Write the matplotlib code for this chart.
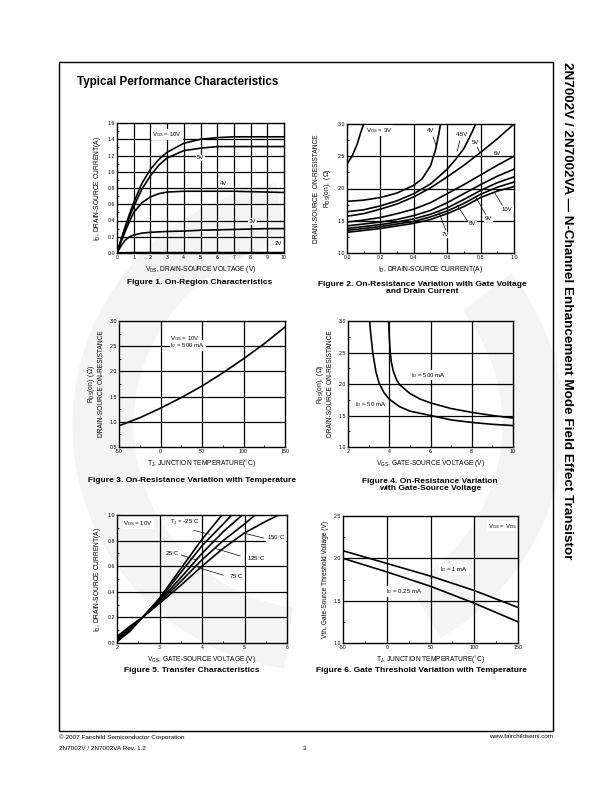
#!/usr/bin/env python3
import matplotlib
matplotlib.use("Agg")
import matplotlib.pyplot as plt
from matplotlib.patches import Rectangle, Wedge
from matplotlib.ticker import MultipleLocator, FuncFormatter

plt.rcParams["font.family"] = ["Liberation Sans", "DejaVu Sans"]
plt.rcParams["mathtext.fontset"] = "custom"
plt.rcParams["mathtext.rm"] = "Liberation Sans"
plt.rcParams["mathtext.it"] = "Liberation Sans"

W, H = 612, 792

# ---- Figure 1: On-Region Characteristics ----
f1_vds = [0, 0.25, 0.5, 0.75, 1, 1.5, 2, 2.5, 3, 4, 5, 6, 7, 8, 9, 10]
f1_id_10v = [0, 0.17, 0.33, 0.48, 0.62, 0.86, 1.03, 1.15, 1.24, 1.35, 1.40, 1.42, 1.43, 1.43, 1.43, 1.43]
f1_id_5v = [0, 0.16, 0.31, 0.45, 0.57, 0.79, 0.95, 1.08, 1.17, 1.26, 1.29, 1.31, 1.31, 1.31, 1.31, 1.31]
f1_id_4v = [0, 0.14, 0.27, 0.39, 0.50, 0.62, 0.69, 0.73, 0.75, 0.76, 0.76, 0.76, 0.76, 0.755, 0.75, 0.745]
f1_id_3v = [0, 0.09, 0.16, 0.20, 0.22, 0.245, 0.255, 0.26, 0.265, 0.27, 0.28, 0.285, 0.29, 0.295, 0.30, 0.30]
f1_id_2v = [0, 0.003, 0.004, 0.005, 0.005, 0.005, 0.005, 0.005, 0.005, 0.005, 0.005, 0.005, 0.005, 0.005, 0.005, 0.005]

# ---- Figure 2: On-Resistance vs Gate Voltage and Drain Current ----
f2_3v_id = [0.0, 0.03, 0.06, 0.08, 0.1]
f2_3v_r = [2.38, 2.5, 2.68, 2.85, 3.0]
f2_4v_id = [0.0, 0.1, 0.2, 0.3, 0.4, 0.45, 0.5, 0.53, 0.55, 0.56]
f2_4v_r = [1.80, 1.82, 1.86, 1.93, 2.05, 2.15, 2.35, 2.6, 2.85, 3.0]
f2_45v_id = [0.0, 0.1, 0.2, 0.3, 0.4, 0.5, 0.6, 0.65, 0.7, 0.75, 0.77]
f2_45v_r = [1.64, 1.67, 1.73, 1.81, 1.92, 2.07, 2.3, 2.45, 2.62, 2.88, 3.0]
f2_id = [0.0, 0.1, 0.2, 0.3, 0.4, 0.5, 0.6, 0.7, 0.8, 0.9, 1.0]
f2_5v_r = [1.57, 1.61, 1.68, 1.76, 1.87, 2.01, 2.18, 2.36, 2.56, 2.77, 3.0]
f2_6v_r = [1.48, 1.51, 1.55, 1.61, 1.68, 1.78, 1.92, 2.06, 2.21, 2.36, 2.5]
f2_7v_r = [1.42, 1.45, 1.48, 1.52, 1.58, 1.66, 1.78, 1.92, 2.06, 2.19, 2.3]
f2_8v_r = [1.38, 1.41, 1.44, 1.48, 1.53, 1.60, 1.70, 1.83, 1.97, 2.09, 2.18]
f2_9v_r = [1.35, 1.38, 1.41, 1.45, 1.49, 1.56, 1.65, 1.77, 1.91, 2.02, 2.1]
f2_10v_r = [1.32, 1.35, 1.38, 1.42, 1.46, 1.52, 1.61, 1.72, 1.86, 1.96, 2.03]

# ---- Figure 3: On-Resistance vs Temperature ----
f3_tj = [-50, -25, 0, 25, 50, 75, 100, 125, 150]
f3_r = [0.92, 1.08, 1.27, 1.48, 1.71, 1.97, 2.25, 2.55, 2.88]

# ---- Figure 4: On-Resistance vs Gate-Source Voltage ----
f4_vgs_50 = [3.05, 3.1, 3.2, 3.35, 3.5, 3.75, 4.0, 4.5, 5.0, 6.0, 7.0, 8.0, 9.0, 10.0]
f4_r_50 = [3.0, 2.8, 2.5, 2.2, 2.02, 1.86, 1.76, 1.64, 1.57, 1.50, 1.43, 1.39, 1.36, 1.34]
f4_vgs_500 = [3.97, 4.0, 4.05, 4.1, 4.2, 4.35, 4.5, 5.0, 5.5, 6.0, 7.0, 8.0, 9.0, 10.0]
f4_r_500 = [3.0, 2.75, 2.5, 2.35, 2.2, 2.07, 1.99, 1.85, 1.76, 1.70, 1.61, 1.55, 1.50, 1.46]

# ---- Figure 5: Transfer Characteristics ----
f5_m25_v = [2.0, 2.3, 2.6, 3.0, 3.5, 4.0, 4.47]
f5_m25_i = [0.01, 0.09, 0.2, 0.35, 0.58, 0.81, 1.0]
f5_25_v = [2.0, 2.3, 2.6, 3.0, 3.5, 4.0, 4.5, 4.7]
f5_25_i = [0.02, 0.10, 0.2, 0.34, 0.55, 0.76, 0.93, 1.0]
f5_75_v = [2.0, 2.3, 2.6, 3.0, 3.5, 4.0, 4.5, 4.95]
f5_75_i = [0.03, 0.11, 0.2, 0.33, 0.51, 0.70, 0.87, 1.0]
f5_125_v = [2.0, 2.3, 2.6, 3.0, 3.5, 4.0, 4.5, 5.0, 5.25]
f5_125_i = [0.04, 0.12, 0.2, 0.32, 0.48, 0.65, 0.80, 0.93, 1.0]
f5_150_v = [2.0, 2.3, 2.6, 3.0, 3.5, 4.0, 4.5, 5.0, 5.5, 5.8]
f5_150_i = [0.05, 0.13, 0.2, 0.31, 0.45, 0.60, 0.74, 0.86, 0.95, 1.0]

# ---- Figure 6: Gate Threshold vs Temperature ----
f6_tj = [-50, 0, 50, 100, 150]
f6_vth_1ma = [2.09, 1.94, 1.79, 1.62, 1.42]
f6_vth_025ma = [2.0, 1.84, 1.67, 1.47, 1.25]


def box(x0, y0, x1, y1):
    # pixel box (top-left origin) -> figure fraction rect
    return [x0 / W, 1 - y1 / H, (x1 - x0) / W, (y1 - y0) / H]


def ftext(x, y, s, **kw):
    fig.text(x / W, 1 - y / H, s, **kw)


def setup(ax, xlim, ylim, xmaj, ymaj, xminor, yminor, xgrid, ygrid, xfmt, yfmt):
    ax.set_facecolor("none")
    ax.set_xlim(*xlim)
    ax.set_ylim(*ylim)
    ax.xaxis.set_major_locator(MultipleLocator(xmaj))
    ax.yaxis.set_major_locator(MultipleLocator(ymaj))
    ax.xaxis.set_minor_locator(MultipleLocator(xminor))
    ax.yaxis.set_minor_locator(MultipleLocator(yminor))
    ax.xaxis.set_major_formatter(FuncFormatter(xfmt))
    ax.yaxis.set_major_formatter(FuncFormatter(yfmt))
    ax.tick_params(which="both", direction="in", labelsize=3.8, pad=1.5,
                   width=0.6, top=False, right=False)
    ax.tick_params(which="major", length=2.5)
    ax.tick_params(which="minor", length=1.5)
    for g in xgrid:
        ax.axvline(g, color="black", lw=0.9, zorder=1)
    for g in ygrid:
        ax.axhline(g, color="black", lw=0.9, zorder=1)
    for s in ax.spines.values():
        s.set_linewidth(1.0)


def label(ax, x, y, s, ha="center", bg=True):
    kw = dict(fontsize=4.3, ha=ha, va="center", zorder=5)
    if bg:
        kw["bbox"] = dict(facecolor="white", edgecolor="none", pad=0.6)
    ax.text(x, y, s, **kw)


def leader(ax, p0, p1):
    ax.plot([p0[0], p1[0]], [p0[1], p1[1]], color="black", lw=0.5, zorder=4)


fig = plt.figure(figsize=(W / 100, H / 100), dpi=100)

# faint background watermark (circular, in inches)
wm_c = (3.18, (H - 425) / 100)
for t1, t2 in ((100, 262), (-60, 38)):
    fig.patches.append(Wedge(wm_c, 2.45, t1, t2, width=0.6, color="#f4f4f4",
                             transform=fig.dpi_scale_trans, zorder=-5))

# page frame
fig.patches.append(Rectangle((59 / W, 1 - 731 / H), (553 - 59) / W, (731 - 62) / H,
                             fill=False, lw=1.0, edgecolor="black",
                             transform=fig.transFigure))

ftext(77, 82, "Typical Performance Characteristics", fontsize=8.4,
      fontweight="bold", va="center")
ftext(567, 62, "2N7002V / 2N7002VA \u2014 N-Channel Enhancement Mode Field Effect Transistor",
      fontsize=9.7, fontweight="bold", rotation=-90, ha="center", va="top")

f1d = lambda v, p: f"{v:.1f}"
f0d = lambda v, p: f"{v:.0f}"
lw = 1.2
cap = dict(fontsize=6.0, fontweight="bold", ha="center", va="center", linespacing=1.15)
axl = dict(fontsize=4.8, labelpad=3)

# Figure 1
ax1 = fig.add_axes(box(117, 123, 284, 253))
setup(ax1, (0, 10), (0, 1.6), 1, 0.2, 1, 0.1, range(1, 10),
      [0.2, 0.4, 0.6, 0.8, 1.0, 1.2, 1.4], f0d, f1d)
for ys in (f1_id_10v, f1_id_5v, f1_id_4v, f1_id_3v, f1_id_2v):
    ax1.plot(f1_vds, ys, color="black", lw=lw, zorder=3)
label(ax1, 3.0, 1.46, "V$_{GS}$ = 10V")
label(ax1, 5.0, 1.17, "5V")
label(ax1, 6.35, 0.86, "4V")
label(ax1, 8.1, 0.39, "3V")
label(ax1, 9.65, 0.12, "2V")
ax1.set_xlabel("V$_{DS}$, DRAIN-SOURCE VOLTAGE (V)", **axl)
ax1.set_ylabel("I$_D$, DRAIN-SOURCE CURRENT(A)", **axl)
ftext(200, 283, "Figure 1. On-Region Characteristics", **cap)

# Figure 2
ax2 = fig.add_axes(box(347, 124, 514, 253))
setup(ax2, (0, 1.0), (1.0, 3.0), 0.2, 0.5, 0.1, 0.25, [0.2, 0.4, 0.6, 0.8],
      [1.5, 2.0, 2.5], f1d, f1d)
ax2.plot(f2_3v_id, f2_3v_r, color="black", lw=lw, zorder=3)
ax2.plot(f2_4v_id, f2_4v_r, color="black", lw=lw, zorder=3)
ax2.plot(f2_45v_id, f2_45v_r, color="black", lw=lw, zorder=3)
for ys in (f2_5v_r, f2_6v_r, f2_7v_r, f2_8v_r, f2_9v_r, f2_10v_r):
    ax2.plot(f2_id, ys, color="black", lw=lw, zorder=3)
label(ax2, 0.19, 2.9, "V$_{GS}$ = 3V")
label(ax2, 0.5, 2.9, "4V")
leader(ax2, (0.515, 2.8), (0.535, 2.66))
label(ax2, 0.69, 2.84, "4.5V")
leader(ax2, (0.675, 2.74), (0.66, 2.58))
label(ax2, 0.77, 2.72, "5V")
leader(ax2, (0.78, 2.64), (0.795, 2.56))
label(ax2, 0.9, 2.55, "6V")
label(ax2, 0.96, 1.68, "10V")
leader(ax2, (0.93, 1.74), (0.885, 1.93))
label(ax2, 0.845, 1.54, "9V")
leader(ax2, (0.83, 1.6), (0.775, 1.85))
label(ax2, 0.75, 1.45, "8V")
leader(ax2, (0.72, 1.5), (0.66, 1.74))
label(ax2, 0.59, 1.28, "7V")
leader(ax2, (0.59, 1.36), (0.55, 1.64))
ax2.set_xlabel("I$_D$, DRAIN-SOURCE CURRENT(A)", **axl)
ax2.set_ylabel("DRANI-SOURCE  ON-RESISTANCE\nR$_{DS}$(on),  ($\\Omega$)",
               linespacing=1.3, **axl)
ftext(422, 288, "Figure 2. On-Resistance Variation with Gate Voltage\nand Drain Current", **cap)

# Figure 3
ax3 = fig.add_axes(box(119, 321, 285, 447))
setup(ax3, (-50, 150), (0.5, 3.0), 50, 0.5, 25, 0.25, [0, 50, 100],
      [1.0, 1.5, 2.0, 2.5], f0d, f1d)
ax3.plot(f3_tj, f3_r, color="black", lw=lw, zorder=3)
label(ax3, 12, 2.66, "V$_{GS}$ = 10V", ha="left")
label(ax3, 12, 2.51, "I$_D$ = 500 mA", ha="left")
ax3.set_xlabel("T$_J$, JUNCTION TEMPERATURE($^{\\circ}$C)", **axl)
ax3.set_ylabel("R$_{DS}$(on)  ($\\Omega$)\nDRAIN-SOURCE ON-RESISTANCE",
               linespacing=1.3, **axl)
ftext(192, 480, "Figure 3. On-Resistance Variation with Temperature", **cap)

# Figure 4
ax4 = fig.add_axes(box(348, 321, 513, 447))
setup(ax4, (2, 10), (1.0, 3.0), 2, 0.5, 1, 0.25, [4, 6, 8],
      [1.5, 2.0, 2.5], f0d, f1d)
ax4.plot(f4_vgs_50, f4_r_50, color="black", lw=lw, zorder=3)
ax4.plot(f4_vgs_500, f4_r_500, color="black", lw=lw, zorder=3)
label(ax4, 5.9, 2.14, "I$_D$ = 500 mA")
label(ax4, 3.1, 1.67, "I$_D$ = 50 mA")
ax4.set_xlabel("V$_{GS}$, GATE-SOURCE VOLTAGE (V)", **axl)
ax4.set_ylabel("R$_{DS}$(on),  ($\\Omega$)\nDRAIN-SOURCE ON-RESISTANCE",
               linespacing=1.3, **axl)
ftext(430, 485, "Figure 4. On-Resistance Variation\nwith Gate-Source Voltage", **cap)

# Figure 5
ax5 = fig.add_axes(box(117, 515, 287, 643))
setup(ax5, (2, 6), (0, 1.0), 1, 0.2, 0.5, 0.1, [3, 4, 5],
      [0.2, 0.4, 0.6, 0.8], f0d, f1d)
for xs, ys in ((f5_m25_v, f5_m25_i), (f5_25_v, f5_25_i), (f5_75_v, f5_75_i),
               (f5_125_v, f5_125_i), (f5_150_v, f5_150_i)):
    ax5.plot(xs, ys, color="black", lw=lw, zorder=3)
label(ax5, 2.15, 0.93, "V$_{DS}$ = 10V", ha="left")
label(ax5, 3.25, 0.94, "T$_J$ = -25$^{\\circ}$C", ha="left")
leader(ax5, (3.8, 0.88), (4.17, 0.85))
label(ax5, 5.53, 0.82, "150$^{\\circ}$C", ha="left")
leader(ax5, (4.96, 0.86), (5.45, 0.82))
label(ax5, 5.05, 0.66, "125$^{\\circ}$C", ha="left")
leader(ax5, (4.3, 0.74), (4.9, 0.68))
label(ax5, 3.13, 0.70, "25$^{\\circ}$C", ha="left")
leader(ax5, (3.4, 0.70), (3.85, 0.65))
label(ax5, 4.63, 0.52, "75$^{\\circ}$C", ha="left")
leader(ax5, (3.9, 0.59), (4.5, 0.53))
ax5.set_xlabel("V$_{GS}$, GATE-SOURCE VOLTAGE (V)", **axl)
ax5.set_ylabel("I$_D$, DRAIN-SOURCE CURRENT(A)", **axl)
ftext(192, 670, "Figure 5. Transfer Characteristics", **cap)

# Figure 6
ax6 = fig.add_axes(box(343, 516, 518, 643))
setup(ax6, (-50, 150), (1.0, 2.5), 50, 0.5, 25, 0.25, [0, 50, 100],
      [1.5, 2.0], f0d, f1d)
ax6.plot(f6_tj, f6_vth_1ma, color="black", lw=lw, zorder=3)
ax6.plot(f6_tj, f6_vth_025ma, color="black", lw=lw, zorder=3)
label(ax6, 132, 2.38, "V$_{GS}$ = V$_{DS}$")
label(ax6, 77, 1.87, "I$_D$ = 1 mA")
label(ax6, 20, 1.61, "I$_D$ = 0.25 mA")
ax6.set_xlabel("T$_J$, JUNCTION TEMPERATURE($^{\\circ}$C)", **axl)
ax6.set_ylabel("Vth, Gate-Source Threshold Voltage (V)", **axl)
ftext(422, 670, "Figure 6. Gate Threshold Variation with Temperature", **cap)

# footer
ftext(59, 737, "\u00a9 2007 Fairchild Semiconductor Corporation", fontsize=4.6, va="center")
ftext(59, 748, "2N7002V / 2N7002VA Rev. 1.2", fontsize=4.6, va="center")
ftext(305, 748, "3", fontsize=4.6, va="center", ha="center")
ftext(553, 737, "www.fairchildsemi.com", fontsize=4.6, va="center", ha="right")

fig.savefig("out.png", dpi=100)
